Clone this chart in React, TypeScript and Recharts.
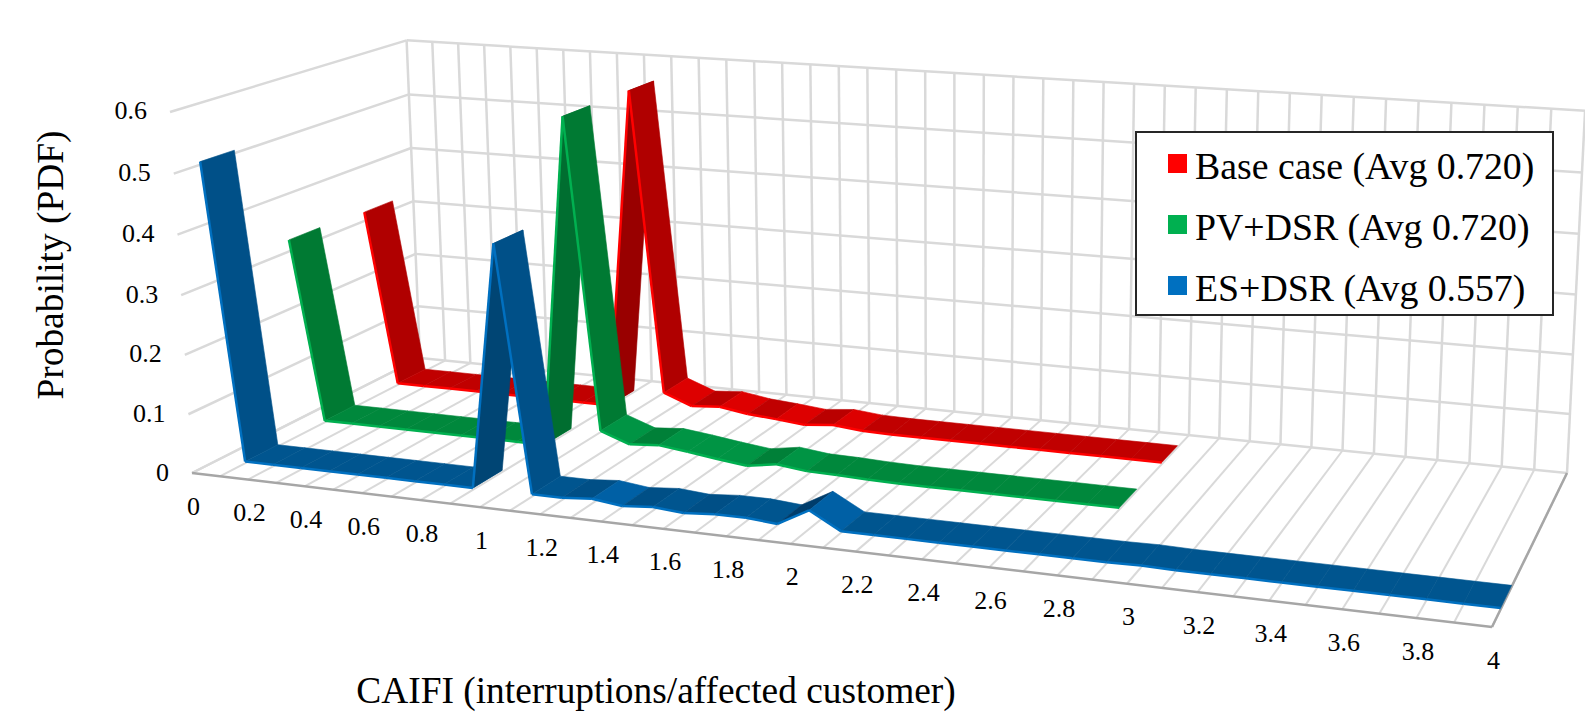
import React from 'react';
import { ScatterChart, Scatter, XAxis, YAxis, Legend } from 'recharts';

const WIDTH = 1585;
const HEIGHT = 712;

// CAIFI categories run from 0 to 4 in 0.1 steps, every second one is labelled
const categoryLabels = ['0', '0.2', '0.4', '0.6', '0.8', '1', '1.2', '1.4', '1.6', '1.8', '2', '2.2', '2.4', '2.6', '2.8', '3', '3.2', '3.4', '3.6', '3.8', '4'];
const valueTicks = [0, 0.1, 0.2, 0.3, 0.4, 0.5, 0.6];

const baseCase = [0.316, 0.003, 0.003, 0.003, 0.003, 0.003, 0.003, 0.003, 0.003, 0.003, 0.568, 0.036, 0.017, 0.021, 0.013, 0.009, 0.004, 0.009, 0.004, 0.003, 0.003, 0.003, 0.003, 0.003, 0.003, 0.003, 0.003, 0.003, 0.003];
const pvDsr = [0.32, 0.003, 0.003, 0.003, 0.003, 0.003, 0.003, 0.003, 0.003, 0.003, 0.568, 0.038, 0.02, 0.024, 0.018, 0.011, 0.005, 0.013, 0.007, 0.006, 0.004, 0.003, 0.003, 0.003, 0.003, 0.003, 0.003, 0.003, 0.003];
const esDsr = [0.505, 0.003, 0.003, 0.003, 0.003, 0.003, 0.003, 0.003, 0.003, 0.003, 0.41, 0.004, 0.004, 0.008, 0.002, 0.006, 0.002, 0.006, 0.006, 0.002, 0.03, 0.002, 0.002, 0.002, 0.002, 0.002, 0.002, 0.002, 0.002, 0.002, 0.003, 0.002, 0.002, 0.002, 0.002, 0.002, 0.002, 0.002, 0.002, 0.002, 0.002];

const seriesNames = ['Base case (Avg 0.720)', 'PV+DSR (Avg 0.720)', 'ES+DSR (Avg 0.557)'];
const swatchColors = ['#FF0000', '#00B050', '#0070C0'];

const CATEGORY_COUNT = 40;
const MAX_VALUE = 0.6;

type Pt = { x: number; y: number };

// unit square -> quad (Heckbert), keeps the homogeneous w too
const quadMap = (a: Pt, b: Pt, c: Pt, d: Pt) => {
  const sx = a.x - b.x + c.x - d.x;
  const sy = a.y - b.y + c.y - d.y;
  const dx1 = b.x - c.x;
  const dx2 = d.x - c.x;
  const dy1 = b.y - c.y;
  const dy2 = d.y - c.y;
  const den = dx1 * dy2 - dx2 * dy1;
  const g = (sx * dy2 - dx2 * sy) / den;
  const h = (dx1 * sy - sx * dy1) / den;
  return (u: number, v: number) => {
    const w = g * u + h * v + 1;
    return {
      x: ((b.x - a.x + g * b.x) * u + (d.x - a.x + h * d.x) * v + a.x) / w,
      y: ((b.y - a.y + g * b.y) * u + (d.y - a.y + h * d.y) * v + a.y) / w,
      w,
    };
  };
};

// u along categories, d into the depth: floor of the 3D box
const floorAt = quadMap({ x: 192, y: 473 }, { x: 1492, y: 627 }, { x: 1567, y: 473 }, { x: 420, y: 358 });
// vanishing point of the vertical edges, and the height weight that puts 0.6 on the wall tops
const VANISH = { x: 948, y: 12883 };
const LIFT = -0.02827;

const project = (u: number, d: number, value: number): Pt => {
  const f = floorAt(u, d);
  const t = (LIFT * value) / MAX_VALUE;
  return {
    x: (f.x * f.w + t * VANISH.x) / (f.w + t),
    y: (f.y * f.w + t * VANISH.y) / (f.w + t),
  };
};

const GRID = '#D9D9D9';
const AXIS = '#A6A6A6';

const segment = (a: Pt, b: Pt, stroke: string, width = 2.5) => ({ x: a.x, y: a.y, kind: 'line', to: b, stroke, width });

const gridMarks: any[] = [];
for (let i = 0; i <= CATEGORY_COUNT; i++) {
  const u = i / CATEGORY_COUNT;
  gridMarks.push(segment(project(u, 1, 0), project(u, 1, MAX_VALUE), GRID));
  gridMarks.push(segment(project(u, 0, 0), project(u, 1, 0), GRID, 2));
}
valueTicks.forEach((v) => {
  gridMarks.push(segment(project(0, 1, v), project(1, 1, v), GRID));
  gridMarks.push(segment(project(0, 0, v), project(0, 1, v), GRID));
});
gridMarks.push(segment(project(0, 0, 0), project(1, 0, 0), AXIS));
gridMarks.push(segment(project(1, 0, 0), project(1, 1, 0), AXIS));

const shades = [
  { rise: '#990000', riseSmall: '#A00000', riseTiny: '#BA0000', fall: '#B00000', fallSmall: '#DD0000', flat: '#C00000', edge: '#FF0000' },
  { rise: '#006E30', riseSmall: '#007434', riseTiny: '#008038', fall: '#007A33', fallSmall: '#009444', flat: '#00883C', edge: '#00B050' },
  { rise: '#004574', riseSmall: '#003D6B', riseTiny: '#004F86', fall: '#005088', fallSmall: '#0060A5', flat: '#00558F', edge: '#0070C0' },
];

const pickFill = (s: any, dv: number) => {
  if (dv > 0.1) return s.rise;
  if (dv > 0.015) return s.riseSmall;
  if (dv > 0.002) return s.riseTiny;
  if (dv < -0.1) return s.fall;
  if (dv < -0.004) return s.fallSmall;
  return s.flat;
};

const ribbon = (values: number[], d0: number, d1: number, s: any) =>
  values.slice(0, -1).map((v, i) => {
    const next = values[i + 1];
    const u0 = i / CATEGORY_COUNT;
    const u1 = (i + 1) / CATEGORY_COUNT;
    const a = project(u0, d0, v);
    const b = project(u1, d0, next);
    const c = project(u1, d1, next);
    const e = project(u0, d1, v);
    return { x: a.x, y: a.y, kind: 'face', pts: [a, b, c, e], fill: pickFill(s, next - v), edge: s.edge };
  });

const redMarks = ribbon(baseCase, 0.767, 0.9, shades[0]);
const greenMarks = ribbon(pvDsr, 0.433, 0.567, shades[1]);
const blueMarks = ribbon(esDsr, 0.1, 0.233, shades[2]);

const FONT = '"Liberation Serif", serif';

const textMarks: any[] = [];
categoryLabels.forEach((label, i) => {
  const p = project((i * 2) / CATEGORY_COUNT, 0, 0);
  textMarks.push({ x: p.x + 1.5, y: p.y + 33, kind: 'text', text: label, size: 26, anchor: 'middle' });
});
valueTicks.forEach((v) => {
  const p = project(0, 0, v);
  textMarks.push({ x: p.x - 23, y: p.y - 1, kind: 'text', text: String(v), size: 26, anchor: 'end' });
});
textMarks.push({ x: 656, y: 690, kind: 'text', text: 'CAIFI (interruptions/affected customer)', size: 37.4, anchor: 'middle' });
textMarks.push({ x: 50, y: 265, kind: 'text', text: 'Probability (PDF)', size: 37.4, anchor: 'middle', rotate: -90 });

const MarkShape = (props: any) => {
  const { cx, cy, payload: m } = props;
  const ox = cx - m.x;
  const oy = cy - m.y;
  if (m.kind === 'line') {
    return <line x1={cx} y1={cy} x2={m.to.x + ox} y2={m.to.y + oy} stroke={m.stroke} strokeWidth={m.width} />;
  }
  if (m.kind === 'face') {
    const pts = m.pts.map((p: Pt) => `${p.x + ox},${p.y + oy}`).join(' ');
    return (
      <g>
        <polygon points={pts} fill={m.fill} stroke={m.fill} strokeWidth={0.6} />
        <line x1={m.pts[0].x + ox} y1={m.pts[0].y + oy} x2={m.pts[1].x + ox} y2={m.pts[1].y + oy} stroke={m.edge} strokeWidth={2.5} />
      </g>
    );
  }
  return (
    <text
      x={cx}
      y={cy}
      fontFamily={FONT}
      fontSize={m.size}
      fill="#000"
      textAnchor={m.anchor}
      dominantBaseline="central"
      transform={m.rotate ? `rotate(${m.rotate} ${cx} ${cy})` : undefined}
    >
      {m.text}
    </text>
  );
};

const LegendBox = () => (
  <div style={{ width: 419, height: 185, boxSizing: 'border-box', border: '2px solid #262626', background: '#fff', position: 'relative' }}>
    {seriesNames.map((name, i) => (
      <React.Fragment key={name}>
        <span style={{ position: 'absolute', left: 31, top: 21 + i * 61, width: 19, height: 19, background: swatchColors[i] }} />
        <span style={{ position: 'absolute', left: 58, top: 14 + i * 61, fontFamily: FONT, fontSize: 37.8, lineHeight: '38px', color: '#000', whiteSpace: 'nowrap' }}>{name}</span>
      </React.Fragment>
    ))}
  </div>
);

export default function App() {
  return (
    <div style={{ position: 'absolute', left: 0, top: 0, width: WIDTH, height: HEIGHT, background: '#fff' }}>
      <ScatterChart width={WIDTH} height={HEIGHT} margin={{ top: 0, right: 0, bottom: 0, left: 0 }}>
        <XAxis type="number" dataKey="x" domain={[0, WIDTH]} hide allowDataOverflow />
        <YAxis type="number" dataKey="y" domain={[0, HEIGHT]} reversed hide allowDataOverflow />
        <Legend
          layout="vertical"
          align="center"
          verticalAlign="middle"
          content={() => <LegendBox />}
          wrapperStyle={{ left: 1135, top: 131, width: 419, height: 185 }}
        />
        <Scatter name="grid" data={gridMarks} shape={MarkShape} isAnimationActive={false} />
        <Scatter name={seriesNames[0]} data={redMarks} shape={MarkShape} isAnimationActive={false} />
        <Scatter name={seriesNames[1]} data={greenMarks} shape={MarkShape} isAnimationActive={false} />
        <Scatter name={seriesNames[2]} data={blueMarks} shape={MarkShape} isAnimationActive={false} />
        <Scatter name="labels" data={textMarks} shape={MarkShape} isAnimationActive={false} />
      </ScatterChart>
    </div>
  );
}
